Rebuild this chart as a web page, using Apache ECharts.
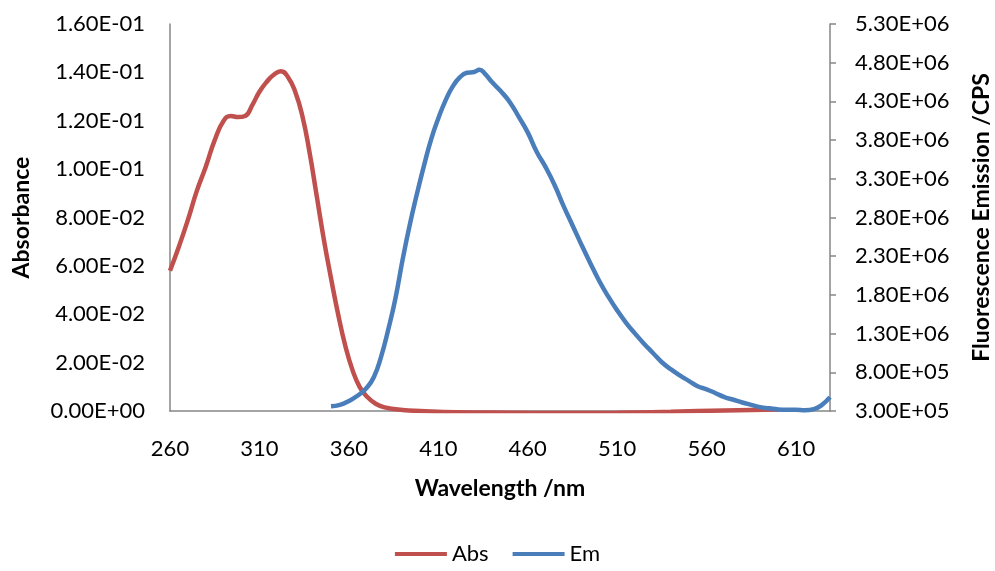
<!DOCTYPE html>
<html>
<head>
<meta charset="utf-8">
<script src="https://cdn.jsdelivr.net/npm/echarts@6/dist/echarts.min.js"></script>
<style>
  html, body { margin: 0; padding: 0; background: #fff; }
  #chart { width: 995px; height: 571px; }
</style>
</head>
<body>
<div id="chart"></div>
<script>
// absorbance spectrum (nm, absorbance)
const absNm = [260, 265, 270, 275, 280, 285, 290, 294, 298, 302, 306, 310, 314, 318, 322, 326, 330, 334, 338, 342, 346, 350, 354, 358, 362, 366, 370, 375, 380, 390, 400, 420, 450, 480, 510, 540, 570, 600];
const absVal = [0.058, 0.068, 0.079, 0.091, 0.101, 0.112, 0.120, 0.122, 0.1215, 0.122, 0.1265, 0.132, 0.136, 0.139, 0.1405, 0.138, 0.132, 0.122, 0.107, 0.089, 0.071, 0.055, 0.040, 0.027, 0.017, 0.010, 0.006, 0.003, 0.0015, 0.0004, 0.0, -0.0005, -0.0007, -0.0008, -0.0007, -0.0003, 0.0002, 0.0006];

// emission spectrum (nm, CPS)
const emNm = [350, 355, 360, 365, 370, 374, 378, 382, 386, 390, 394, 398, 402, 406, 410, 414, 418, 422, 426, 430, 433, 436, 440, 445, 450, 455, 460, 465, 470, 475, 480, 485, 490, 495, 500, 505, 510, 515, 520, 525, 530, 535, 540, 545, 550, 555, 560, 565, 570, 575, 580, 585, 590, 595, 600, 605, 610, 615, 620, 624, 629];
const emVal = [3.6e5, 3.8e5, 4.3e5, 5.0e5, 6.0e5, 7.4e5, 1.0e6, 1.35e6, 1.75e6, 2.25e6, 2.70e6, 3.10e6, 3.47e6, 3.81e6, 4.08e6, 4.31e6, 4.49e6, 4.61e6, 4.67e6, 4.68e6, 4.71e6, 4.66e6, 4.55e6, 4.43e6, 4.29e6, 4.10e6, 3.90e6, 3.65e6, 3.45e6, 3.22e6, 2.95e6, 2.70e6, 2.45e6, 2.21e6, 1.98e6, 1.78e6, 1.60e6, 1.44e6, 1.30e6, 1.17e6, 1.05e6, 9.3e5, 8.4e5, 7.6e5, 6.9e5, 6.2e5, 5.8e5, 5.3e5, 4.8e5, 4.45e5, 4.1e5, 3.8e5, 3.5e5, 3.35e5, 3.2e5, 3.15e5, 3.15e5, 3.1e5, 3.25e5, 3.7e5, 4.8e5];

// Excel style scientific labels, e.g. 1.60E-01
function sci(v) {
    if (Math.abs(v) < 1e-12) return '0.00E+00';
    let parts = v.toExponential(2).split('e');
    let exp = parseInt(parts[1], 10);
    let sign = exp < 0 ? '-' : '+';
    let e = Math.abs(exp);
    return parts[0] + 'E' + sign + (e < 10 ? '0' + e : e);
}

const font = 'Lato';
const axisGray = '#868686';
const labelSize = 22;
const titleSize = 23;

let myChart = echarts.init(document.getElementById('chart'));

let absData = absNm.map(function (nm, i) { return [nm, absVal[i]]; });
let emData = emNm.map(function (nm, i) { return [nm, emVal[i]]; });

let option = {
    animation: false,
    backgroundColor: '#fff',
    grid: { left: 170, right: 165, top: 24, bottom: 160, outerBoundsMode: 'none', containLabel: false },
    legend: {
        bottom: 1,
        left: 'center',
        icon: 'rect',
        itemWidth: 52,
        itemHeight: 4,
        itemGap: 24,
        textStyle: { fontFamily: font, fontSize: labelSize, color: '#000' },
        data: ['Abs', 'Em']
    },
    xAxis: {
        type: 'value',
        min: 260,
        max: 629,
        interval: 50,
        name: 'Wavelength /nm',
        nameLocation: 'middle',
        nameGap: 66,
        nameTextStyle: { fontFamily: font, fontSize: titleSize, fontWeight: 'bold', color: '#000' },
        axisLine: { lineStyle: { color: axisGray, width: 1.5 } },
        axisTick: { show: false },
        splitLine: { show: false },
        axisLabel: {
            fontFamily: font, fontSize: labelSize, color: '#000', margin: 27,
            showMaxLabel: false
        }
    },
    yAxis: [{
        type: 'value',
        min: 0,
        max: 0.16,
        interval: 0.02,
        position: 'left',
        name: 'Absorbance',
        nameLocation: 'middle',
        nameRotate: 90,
        nameGap: 137,
        nameTextStyle: { fontFamily: font, fontSize: titleSize, fontWeight: 'bold', color: '#000' },
        axisLine: { show: true, lineStyle: { color: axisGray, width: 1.5 } },
        axisTick: { show: false },
        splitLine: { show: false },
        axisLabel: { fontFamily: font, fontSize: labelSize, color: '#000', margin: 25, formatter: sci }
    }, {
        type: 'value',
        min: 3e5,
        max: 5.3e6,
        interval: 5e5,
        position: 'right',
        name: 'Fluorescence Emission /CPS',
        nameLocation: 'middle',
        nameRotate: 90,
        nameGap: 140,
        nameTextStyle: { fontFamily: font, fontSize: titleSize, fontWeight: 'bold', color: '#000' },
        axisLine: { show: true, lineStyle: { color: axisGray, width: 1.5 } },
        axisTick: { show: true, length: 6, lineStyle: { color: axisGray, width: 1.5 } },
        splitLine: { show: false },
        axisLabel: { fontFamily: font, fontSize: labelSize, color: '#000', margin: 25, formatter: sci }
    }],
    series: [{
        name: 'Abs',
        type: 'line',
        yAxisIndex: 0,
        smooth: true,
        showSymbol: false,
        color: '#C0504D',
        lineStyle: { width: 4.5, color: '#C0504D' },
        data: absData
    }, {
        name: 'Em',
        type: 'line',
        yAxisIndex: 1,
        smooth: true,
        showSymbol: false,
        color: '#4A7EBB',
        lineStyle: { width: 4.5, color: '#4A7EBB' },
        data: emData
    }]
};

option && myChart.setOption(option);
</script>
</body>
</html>
